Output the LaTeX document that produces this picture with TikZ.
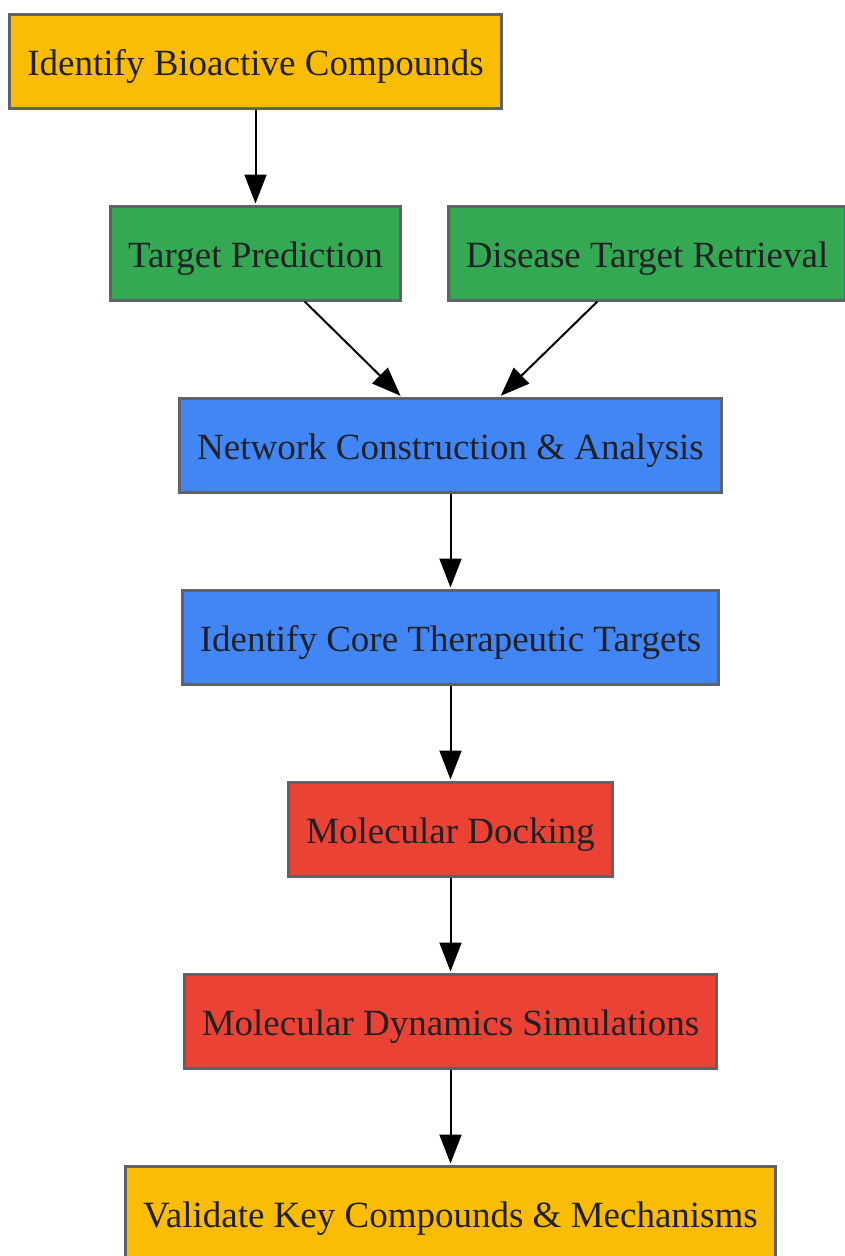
\documentclass[tikz,border=0pt]{standalone}
\usepackage{fontspec}
\setmainfont{Liberation Serif}
\usepackage{tikz}
\usetikzlibrary{positioning,arrows.meta}
\definecolor{gyellow}{HTML}{FBBC05}
\definecolor{ggreen}{HTML}{34A853}
\definecolor{gblue}{HTML}{4285F4}
\definecolor{gred}{HTML}{EA4335}
\definecolor{gborder}{HTML}{5F6368}
\definecolor{gtext}{HTML}{202124}

\begin{document}
\begin{tikzpicture}[x=1pt,y=1pt,shorten >=1pt,node distance=192pt,on grid,
   box/.style={rectangle,draw=gborder,line width=3pt,minimum height=94pt,
      inner xsep=17.5pt,text height=28pt,text depth=0pt,text=gtext,
      font=\fontsize{37}{44}\selectfont},
   >={Triangle[length=29pt,width=22pt]}]
   \useasboundingbox (0,0) rectangle (844,-1256);
   \node[box,fill=gyellow] (s_0) at (255.5,-61) {Identify Bioactive Compounds};
   \node[box,fill=ggreen]  (s_1) [below=of s_0] {Target Prediction};
   \node[box,fill=ggreen]  (s_2) [right=391.5pt of s_1] {Disease Target Retrieval};
   \node[box,fill=gblue]   (s_3) [below right=192pt and 195pt of s_1] {Network Construction \& Analysis};
   \node[box,fill=gblue]   (s_4) [below=of s_3] {Identify Core Therapeutic Targets};
   \node[box,fill=gred]    (s_5) [below=of s_4] {Molecular Docking};
   \node[box,fill=gred]    (s_6) [below=of s_5] {Molecular Dynamics Simulations};
   \node[box,fill=gyellow] (s_7) [below=of s_6] {Validate Key Compounds \& Mechanisms};
    \path[->,line width=2pt]
    (s_0) edge (s_1)
    (s_1) edge (s_3)
    (s_2) edge (s_3)
    (s_3) edge (s_4)
    (s_4) edge (s_5)
    (s_5) edge (s_6)
    (s_6) edge (s_7);
\end{tikzpicture}
\end{document}
